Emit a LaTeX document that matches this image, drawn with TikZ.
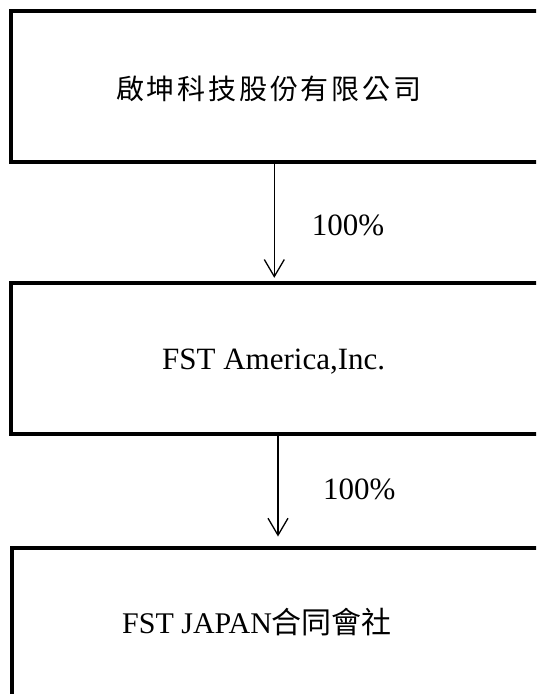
\documentclass[tikz,border=0pt]{standalone}
\usepackage{fontspec}
\setmainfont{Liberation Serif}
\newfontfamily\cjk{Noto Sans CJK TC}
\newfontfamily\cjkwide[LetterSpace=10]{Noto Sans CJK TC}
\usetikzlibrary{arrows.meta}

\tikzset{
  company/.style={draw,line width=3.6pt,minimum width=534pt,minimum height=151pt,inner sep=0pt},
  owns/.style={-{Straight Barb[length=17pt,width=20pt]},line width=1.3pt},
  share/.style={anchor=base west,inner sep=0pt,font=\fontsize{31}{31}\selectfont},
  firmname/.style={inner sep=0pt,font=\fontsize{31}{31}\selectfont},
}

\begin{document}
\begin{tikzpicture}[x=1pt,y=-1pt]
            \clip (0,0) rectangle (536,694);

            \node[company] (fsk) at (278,86.4){};
            \node[company] (fsa) at (278,358.5){};
            \node[company] (fsj) at (278.7,623.2){};

            \node[firmname,anchor=west,font=\cjkwide\fontsize{28}{28}\selectfont] (fsk text) at (116,89){啟坤科技股份有限公司};
            \node[firmname,anchor=base west] (fsa text) at (162,369.3){FST America,Inc.};
            \node[firmname,anchor=base west,font=\fontsize{30}{30}\selectfont] (fsj text) at (122,633){FST JAPAN{\cjk\fontsize{30}{30}\selectfont 合同會社}};

            \draw[owns,shorten >=3.4pt] ([xshift=-3.7pt]fsk.south) -- ([xshift=-3.7pt]fsa.north);
            \draw[owns,shorten >=9.4pt] (fsa.south) -- (fsa.south |- fsj.north);

            \node[share] (share a) at (311.7,235){100\%};
            \node[share] (share j) at (323,499){100\%};
\end{tikzpicture}
\end{document}
